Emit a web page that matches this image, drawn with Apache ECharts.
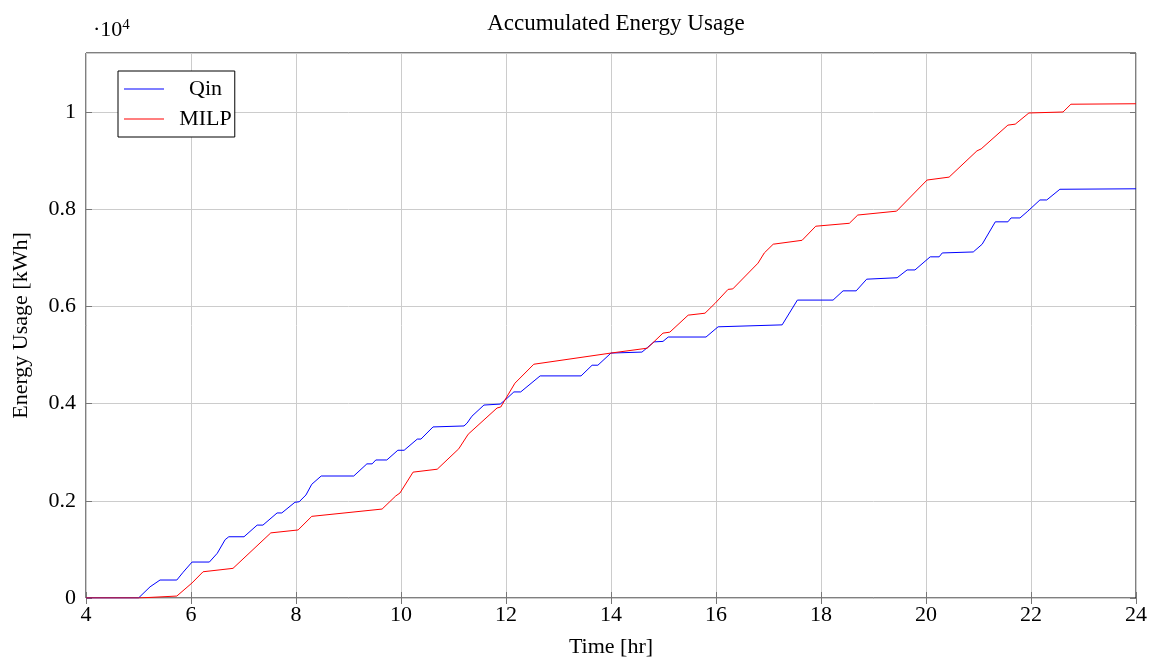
<!DOCTYPE html>
<html>
<head>
<meta charset="utf-8">
<script src="https://cdn.jsdelivr.net/npm/echarts@6/dist/echarts.min.js"></script>
<style>html,body{margin:0;padding:0;background:#fff;}#c{width:1156px;height:662px;}</style>
</head>
<body>
<div id="c"></div>
<script>
const qinTime = [4, 5.0, 5.22, 5.41, 5.73, 5.85, 6.02, 6.35, 6.5, 6.65, 6.72, 7.01, 7.26, 7.37, 7.64, 7.73, 7.98, 8.06, 8.19, 8.30, 8.48, 9.10, 9.35, 9.45, 9.52, 9.73, 9.94, 10.06, 10.31, 10.38, 10.61, 11.2, 11.26, 11.35, 11.58, 11.89, 12.02, 12.15, 12.28, 12.65, 13.43, 13.64, 13.75, 14.0, 14.59, 14.7, 14.82, 14.99, 15.09, 15.81, 16.04, 17.26, 17.55, 18.23, 18.42, 18.67, 18.87, 19.45, 19.64, 19.79, 20.08, 20.25, 20.31, 20.9, 21.07, 21.32, 21.56, 21.62, 21.79, 21.94, 22.17, 22.30, 22.55, 24];
const qinValue = [0, 0, 230, 370, 370, 530, 740, 740, 920, 1200, 1260, 1260, 1500, 1500, 1750, 1750, 1970, 1980, 2120, 2340, 2510, 2510, 2760, 2760, 2840, 2840, 3040, 3040, 3270, 3270, 3520, 3540, 3600, 3740, 3970, 3990, 4110, 4240, 4240, 4570, 4570, 4790, 4790, 5040, 5060, 5160, 5270, 5280, 5370, 5370, 5580, 5620, 6130, 6130, 6320, 6320, 6560, 6590, 6750, 6750, 7020, 7020, 7100, 7120, 7280, 7740, 7740, 7820, 7820, 7960, 8190, 8190, 8410, 8420];
const milpTime = [4, 5.0, 5.73, 6.02, 6.23, 6.8, 7.52, 8.04, 8.30, 9.64, 9.9, 9.98, 10.23, 10.69, 11.1, 11.28, 11.83, 11.9, 12.17, 12.53, 14.0, 14.69, 14.99, 15.12, 15.47, 15.79, 15.98, 16.23, 16.32, 16.8, 16.92, 17.09, 17.64, 17.9, 18.54, 18.7, 19.44, 20.02, 20.44, 20.97, 21.05, 21.56, 21.7, 21.96, 22.61, 22.76, 24];
const milpValue = [0, 0, 40, 310, 540, 610, 1340, 1400, 1680, 1830, 2100, 2160, 2590, 2650, 3070, 3370, 3910, 3930, 4420, 4810, 5040, 5140, 5450, 5470, 5820, 5860, 6060, 6350, 6360, 6890, 7100, 7280, 7360, 7650, 7710, 7880, 7960, 8600, 8660, 9200, 9240, 9730, 9750, 9980, 10000, 10160, 10170];
const xTicks = [4, 6, 8, 10, 12, 14, 16, 18, 20, 22, 24];
const yTickLabels = ['0', '0.2', '0.4', '0.6', '0.8', '1'];

const FONT = '"Liberation Serif", "DejaVu Serif", serif';
const FS = 22;
const chart = echarts.init(document.getElementById('c'));
const pair = (t, v) => t.map((x, i) => [x, v[i]]);
const tickStyle = { show: true, inside: true, length: 6, lineStyle: { color: '#777' } };

chart.setOption({
  animation: false,
  backgroundColor: '#fff',
  textStyle: { fontFamily: FONT },
  title: {
    text: 'Accumulated Energy Usage',
    left: 611, top: 7, textAlign: 'center',
    textStyle: { fontFamily: FONT, fontSize: 23, fontWeight: 'normal', color: '#000' }
  },
  grid: { left: 86, right: 20, top: 53, bottom: 64, show: true, borderColor: '#000', borderWidth: 1, containLabel: false, outerBoundsMode: 'none' },
  legend: {
    left: 118, top: 71, orient: 'vertical',
    data: ['Qin', 'MILP'],
    backgroundColor: '#fff', borderColor: '#000', borderWidth: 1,
    padding: [7, 3, 7, 6], itemGap: 8,
    itemWidth: 40, itemHeight: 1,
    icon: 'path://M0 0H40V1H0Z',
    formatter: '{a|{name}}',
    textStyle: { fontFamily: FONT, fontSize: FS, color: '#000',
      rich: { a: { fontFamily: FONT, fontSize: FS, width: 73, align: 'center' } } }
  },
  xAxis: [{
    type: 'value', min: 4, max: 24, interval: 2,
    name: 'Time [hr]', nameLocation: 'middle', nameGap: 38,
    nameTextStyle: { fontFamily: FONT, fontSize: FS, color: '#000' },
    axisLine: { show: false },
    axisTick: tickStyle,
    axisLabel: { fontFamily: FONT, fontSize: FS, color: '#000', margin: 6,
      formatter: v => xTicks.includes(v) ? String(v) : '' },
    splitLine: { show: true, lineStyle: { color: '#cccccc', width: 1 } }
  }, {
    type: 'value', min: 4, max: 24, interval: 2, position: 'top',
    axisLine: { show: false }, axisTick: tickStyle, axisLabel: { show: false }, splitLine: { show: false }
  }],
  yAxis: [{
    type: 'value', min: 0, max: 11214, interval: 2000,
    name: 'Energy Usage [kWh]', nameLocation: 'middle', nameGap: 54, nameRotate: 90,
    nameTextStyle: { fontFamily: FONT, fontSize: FS, color: '#000' },
    axisLine: { show: false },
    axisTick: tickStyle,
    axisLabel: { fontFamily: FONT, fontSize: FS, color: '#000', margin: 10, showMaxLabel: false,
      formatter: v => { const i = Math.round(v / 2000); return (v % 2000 === 0 && i < yTickLabels.length) ? yTickLabels[i] : ''; } },
    splitLine: { show: true, lineStyle: { color: '#cccccc', width: 1 } }
  }, {
    type: 'value', min: 0, max: 11214, interval: 2000, position: 'right',
    axisLine: { show: false }, axisTick: tickStyle, axisLabel: { show: false }, splitLine: { show: false }
  }],
  graphic: [{
    type: 'text', left: 93, top: 18,
    style: {
      text: '·10{s|4}',
      rich: { s: { fontSize: 15, verticalAlign: 'top', padding: [0, 0, 10, 0], fontFamily: FONT } },
      fontFamily: FONT, fontSize: FS, fill: '#000'
    }
  }],
  series: [
    { name: 'Qin', type: 'line', data: pair(qinTime, qinValue), showSymbol: false, symbol: 'none',
      lineStyle: { color: '#0000ff', width: 1 }, itemStyle: { color: '#0000ff' } },
    { name: 'MILP', type: 'line', data: pair(milpTime, milpValue), showSymbol: false, symbol: 'none',
      lineStyle: { color: '#ff0000', width: 1 }, itemStyle: { color: '#ff0000' } }
  ]
});
</script>
</body>
</html>
